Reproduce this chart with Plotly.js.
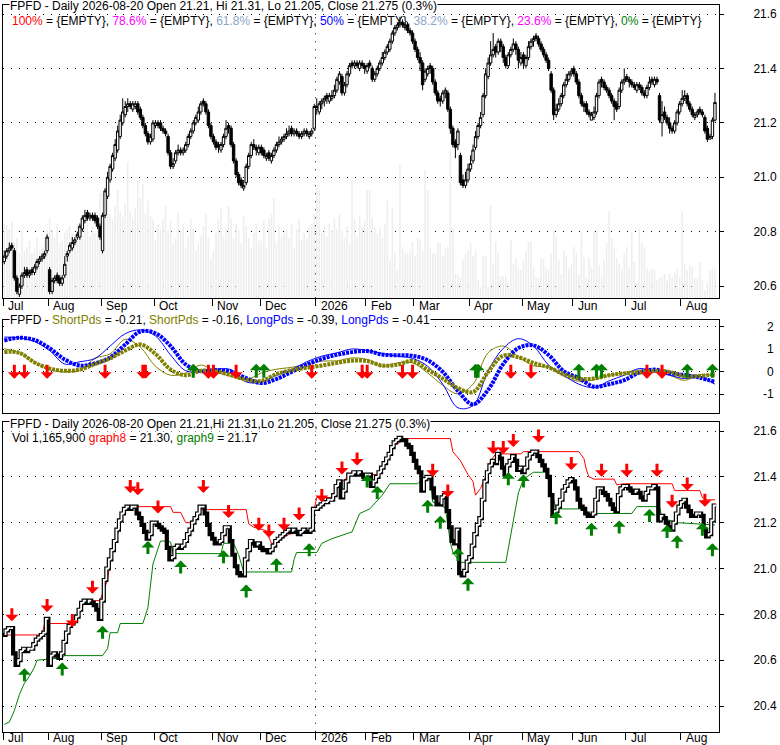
<!DOCTYPE html>
<html><head><meta charset="utf-8">
<script src="https://cdn.plot.ly/plotly-3.0.1.min.js"></script>
<style>html,body{margin:0;padding:0;background:#fff;}#chart{width:780px;height:745px;}</style>
</head><body><div id="chart"></div>
<script>
const monthLabels = ['Jul','Aug','Sep','Oct','Nov','Dec','2026','Feb','Mar','Apr','May','Jun','Jul','Aug'];
const monthStarts = [0,18,39,60,83,102,124,144,163,185,206,226,247,269];

const closeP = [
20.71,20.73,20.74,20.74,20.63,20.58,20.60,20.64,20.65,20.64,
20.65,20.65,20.67,20.69,20.70,20.71,20.72,20.78,20.58,20.62,
20.63,20.62,20.61,20.63,20.68,20.72,20.75,20.76,20.77,20.79,
20.82,20.85,20.86,20.85,20.86,20.85,20.84,20.82,20.78,20.86,
20.95,21.00,21.04,21.08,21.12,21.17,21.21,21.24,21.26,21.27,
21.26,21.27,21.27,21.24,21.22,21.19,21.16,21.13,21.15,21.20,
21.20,21.19,21.18,21.17,21.16,21.09,21.04,21.05,21.09,21.10,
21.09,21.10,21.12,21.15,21.17,21.20,21.22,21.24,21.27,21.27,
21.24,21.19,21.15,21.13,21.11,21.11,21.12,21.15,21.18,21.18,
21.12,21.06,21.01,20.98,20.97,20.97,21.04,21.08,21.12,21.11,
21.10,21.11,21.09,21.08,21.08,21.07,21.08,21.10,21.12,21.13,
21.14,21.15,21.16,21.17,21.16,21.17,21.16,21.15,21.16,21.17,
21.16,21.16,21.17,21.26,21.26,21.27,21.28,21.29,21.29,21.30,
21.30,21.32,21.36,21.38,21.31,21.34,21.38,21.41,21.41,21.42,
21.41,21.42,21.41,21.40,21.41,21.41,21.36,21.38,21.40,21.42,
21.44,21.46,21.48,21.50,21.53,21.55,21.56,21.57,21.56,21.56,
21.54,21.53,21.50,21.47,21.44,21.42,21.34,21.39,21.40,21.40,
21.35,21.31,21.28,21.28,21.31,21.32,21.25,21.18,21.12,21.11,
21.17,20.98,20.97,20.99,21.03,21.05,21.10,21.15,21.19,21.22,
21.30,21.38,21.42,21.45,21.47,21.46,21.50,21.48,21.44,21.41,
21.45,21.47,21.49,21.47,21.43,21.44,21.42,21.44,21.48,21.50,
21.51,21.51,21.49,21.47,21.45,21.43,21.40,21.32,21.23,21.25,
21.27,21.30,21.34,21.36,21.38,21.39,21.38,21.35,21.30,21.27,
21.26,21.24,21.23,21.23,21.24,21.30,21.35,21.35,21.33,21.32,
21.30,21.28,21.26,21.25,21.32,21.35,21.36,21.36,21.35,21.34,
21.33,21.34,21.33,21.31,21.30,21.33,21.35,21.35,21.36,21.35,
21.21,21.23,21.22,21.20,21.18,21.17,21.20,21.24,21.27,21.29,
21.30,21.27,21.25,21.23,21.23,21.24,21.24,21.23,21.17,21.14,
21.15,21.21,21.275];

const openP = [
20.69,20.71,20.73,20.75,20.73,20.63,20.57,20.60,20.64,20.66,
20.64,20.66,20.65,20.67,20.69,20.70,20.71,20.73,20.66,20.58,
20.62,20.64,20.63,20.61,20.64,20.71,20.73,20.74,20.76,20.78,
20.78,20.81,20.84,20.87,20.85,20.86,20.86,20.85,20.82,20.73,
20.86,20.93,20.99,21.03,21.07,21.10,21.15,21.20,21.23,21.26,
21.27,21.25,21.26,21.27,21.25,21.22,21.19,21.16,21.13,21.14,
21.19,21.20,21.20,21.18,21.17,21.15,21.09,21.04,21.06,21.09,
21.10,21.09,21.10,21.12,21.15,21.17,21.20,21.21,21.24,21.28,
21.27,21.24,21.19,21.15,21.13,21.12,21.10,21.12,21.15,21.19,
21.18,21.12,21.06,21.01,20.99,20.96,20.98,21.04,21.08,21.12,
21.11,21.09,21.11,21.10,21.07,21.09,21.06,21.08,21.10,21.12,
21.13,21.14,21.15,21.16,21.18,21.16,21.17,21.16,21.15,21.16,
21.17,21.15,21.16,21.18,21.25,21.24,21.27,21.28,21.30,21.28,
21.29,21.30,21.32,21.35,21.37,21.31,21.34,21.38,21.42,21.41,
21.42,21.40,21.42,21.41,21.39,21.42,21.40,21.36,21.38,21.40,
21.42,21.44,21.46,21.47,21.50,21.53,21.55,21.56,21.57,21.55,
21.56,21.54,21.53,21.50,21.47,21.44,21.42,21.36,21.38,21.41,
21.40,21.35,21.31,21.29,21.28,21.31,21.31,21.25,21.18,21.13,
21.12,21.08,20.99,20.97,20.99,21.03,21.06,21.11,21.15,21.19,
21.23,21.30,21.37,21.42,21.45,21.48,21.46,21.50,21.48,21.44,
21.41,21.45,21.47,21.49,21.47,21.42,21.45,21.41,21.44,21.48,
21.50,21.52,21.51,21.49,21.47,21.45,21.43,21.38,21.32,21.23,
21.25,21.27,21.30,21.34,21.36,21.38,21.40,21.38,21.35,21.30,
21.27,21.27,21.24,21.21,21.22,21.24,21.30,21.36,21.35,21.33,
21.32,21.30,21.28,21.27,21.26,21.32,21.35,21.37,21.36,21.35,
21.34,21.32,21.34,21.33,21.31,21.30,21.33,21.36,21.34,21.36,
21.30,21.20,21.24,21.22,21.20,21.18,21.17,21.20,21.24,21.27,
21.29,21.30,21.27,21.25,21.22,21.23,21.25,21.24,21.22,21.18,
21.14,21.15,21.21];

const highP = [
20.73,20.74,20.76,20.76,20.74,20.64,20.61,20.65,20.67,20.67,
20.66,20.67,20.68,20.70,20.71,20.72,20.73,20.79,20.67,20.63,
20.64,20.65,20.64,20.64,20.71,20.73,20.76,20.78,20.78,20.80,
20.83,20.86,20.88,20.88,20.87,20.87,20.87,20.86,20.83,20.87,
20.96,21.02,21.05,21.09,21.14,21.19,21.23,21.29,21.28,21.29,
21.28,21.28,21.28,21.28,21.26,21.23,21.20,21.17,21.16,21.21,
21.21,21.21,21.21,21.19,21.18,21.16,21.10,21.07,21.10,21.12,
21.11,21.11,21.13,21.16,21.18,21.21,21.23,21.26,21.28,21.29,
21.28,21.25,21.20,21.16,21.14,21.13,21.13,21.16,21.21,21.20,
21.19,21.13,21.07,21.02,21.00,20.99,21.05,21.09,21.13,21.14,
21.12,21.12,21.12,21.11,21.09,21.10,21.09,21.11,21.13,21.15,
21.15,21.16,21.18,21.19,21.19,21.18,21.18,21.17,21.17,21.18,
21.18,21.17,21.18,21.27,21.29,21.28,21.29,21.30,21.31,21.31,
21.32,21.34,21.37,21.39,21.38,21.35,21.39,21.42,21.43,21.43,
21.43,21.43,21.43,21.42,21.42,21.43,21.41,21.39,21.41,21.43,
21.46,21.47,21.49,21.51,21.54,21.56,21.57,21.59,21.58,21.57,
21.57,21.55,21.54,21.51,21.48,21.46,21.43,21.40,21.41,21.42,
21.41,21.36,21.32,21.30,21.32,21.33,21.32,21.26,21.19,21.14,
21.18,21.09,21.01,21.02,21.05,21.08,21.12,21.17,21.20,21.24,
21.31,21.40,21.44,21.50,21.53,21.49,21.51,21.51,21.49,21.45,
21.46,21.48,21.51,21.50,21.48,21.46,21.46,21.45,21.50,21.51,
21.52,21.53,21.52,21.50,21.48,21.46,21.44,21.39,21.33,21.27,
21.29,21.31,21.35,21.38,21.39,21.40,21.41,21.39,21.36,21.31,
21.28,21.28,21.25,21.24,21.26,21.31,21.36,21.37,21.36,21.34,
21.33,21.31,21.29,21.28,21.33,21.36,21.40,21.38,21.37,21.36,
21.35,21.35,21.35,21.34,21.32,21.34,21.37,21.37,21.37,21.37,
21.31,21.28,21.26,21.23,21.22,21.19,21.21,21.25,21.28,21.32,
21.32,21.31,21.28,21.26,21.24,21.25,21.26,21.25,21.23,21.19,
21.16,21.22,21.31];

const lowP = [
20.68,20.70,20.72,20.73,20.62,20.57,20.56,20.59,20.63,20.63,
20.63,20.64,20.64,20.66,20.68,20.69,20.70,20.72,20.57,20.57,
20.61,20.61,20.60,20.60,20.63,20.69,20.72,20.73,20.75,20.77,
20.77,20.80,20.83,20.84,20.84,20.84,20.83,20.81,20.77,20.72,
20.85,20.92,20.98,21.02,21.06,21.09,21.14,21.19,21.22,21.24,
21.25,21.24,21.25,21.23,21.21,21.18,21.15,21.12,21.12,21.13,
21.18,21.18,21.17,21.16,21.15,21.08,21.03,21.03,21.05,21.08,
21.08,21.08,21.09,21.11,21.14,21.16,21.19,21.20,21.23,21.26,
21.23,21.18,21.14,21.12,21.10,21.09,21.09,21.11,21.14,21.16,
21.11,21.05,21.00,20.97,20.96,20.95,20.97,21.03,21.07,21.10,
21.08,21.08,21.08,21.07,21.06,21.06,21.05,21.07,21.09,21.11,
21.12,21.13,21.14,21.15,21.15,21.15,21.15,21.14,21.14,21.15,
21.15,21.14,21.15,21.17,21.23,21.23,21.25,21.26,21.27,21.27,
21.28,21.29,21.31,21.34,21.30,21.30,21.33,21.37,21.40,21.40,
21.40,21.39,21.40,21.38,21.38,21.40,21.35,21.35,21.37,21.39,
21.41,21.43,21.45,21.46,21.49,21.52,21.54,21.55,21.55,21.54,
21.53,21.52,21.49,21.46,21.43,21.39,21.32,21.35,21.37,21.38,
21.34,21.30,21.27,21.26,21.27,21.29,21.24,21.16,21.11,21.07,
21.10,20.97,20.96,20.96,20.98,21.02,21.05,21.10,21.14,21.18,
21.22,21.29,21.36,21.41,21.44,21.44,21.45,21.46,21.42,21.40,
21.40,21.44,21.46,21.45,21.40,21.41,21.40,21.40,21.43,21.47,
21.48,21.50,21.48,21.46,21.44,21.42,21.39,21.31,21.21,21.22,
21.24,21.26,21.29,21.33,21.35,21.37,21.37,21.34,21.29,21.26,
21.24,21.23,21.22,21.21,21.21,21.23,21.29,21.33,21.32,21.31,
21.29,21.27,21.21,21.24,21.25,21.31,21.34,21.35,21.33,21.33,
21.32,21.31,21.32,21.30,21.29,21.29,21.32,21.34,21.33,21.34,
21.20,21.15,21.21,21.19,21.16,21.16,21.16,21.19,21.23,21.26,
21.28,21.26,21.24,21.22,21.21,21.22,21.23,21.22,21.16,21.13,
21.14,21.14,21.205];

// volume in thousands of shares
const volumeK = [
2900,2850,2700,3000,2150,2350,1750,2650,1850,2000,2250,1750,1950,2350,1850,2000,2350,2650,
3100,2700,2350,2900,2150,2250,2550,2700,2800,2550,2350,2900,2650,2400,2700,3100,2400,2800,2550,3050,4100,
4100,3500,3900,3300,3050,3600,4200,3400,3150,3700,5300,3400,3100,3500,4600,3900,4450,3300,3800,3200,3050,
2250,2900,2650,3100,3600,2650,3050,2150,2350,3350,2650,2900,1950,2400,3100,2700,1850,2150,2400,2800,3300,2350,1550,
1850,2550,3100,3500,2400,2700,3600,3100,2350,2900,2650,2150,3200,2800,2350,1950,2550,2900,2250,
2250,3050,1950,3100,3300,3900,2150,2800,2400,2550,2650,2350,2900,1950,2700,3100,2250,2550,2350,2800,2900,3300,
4300,4200,2550,2800,2400,2900,2650,3100,2700,3300,2600,2350,2800,2150,4600,3100,2400,3200,2800,3000,
4200,4200,3150,2750,2500,2750,2350,2900,3800,1500,3500,1800,1100,5200,2000,1800,1750,1850,2200,
1650,2350,2250,1850,5000,4200,1950,1750,1750,2150,2150,1650,1950,2000,5750,2700,950,900,800,1500,1700,1850,
2150,1650,1850,700,450,1650,1650,450,3600,1350,2200,1750,850,850,850,600,2250,1350,1550,1150,1100,
1500,1850,2200,2200,1200,800,800,1550,1550,1200,1100,1750,2650,2400,1500,950,1850,1650,1150,1350,
2000,1800,950,2550,1600,800,1600,1200,2600,2600,1300,900,1500,2150,3400,2350,1950,1550,1350,1150,1750,
2000,1200,2550,1400,600,2700,2150,2000,1150,1050,1150,1100,700,800,850,950,700,950,800,1000,1150,850,
3400,1350,1100,1300,1200,800,750,1400,700,300,600,1100,1150,1166];

// oscillator readings (sampled bar positions)
const oscIdx = [0,6,12,18,24,30,36,42,48,54,60,66,72,78,84,90,96,102,108,114,120,126,132,138,144,150,156,162,168,174,180,186,192,198,204,210,216,222,228,234,240,246,252,258,264,270,276,282];
const longThick = [1.40,1.52,1.42,1.05,0.55,0.28,0.38,0.64,1.22,1.80,1.72,1.15,0.33,0.03,0.08,0.00,-0.28,-0.50,-0.32,0.00,0.32,0.58,0.76,0.88,0.93,0.77,0.74,0.72,0.52,0.00,-0.85,-1.45,-0.80,0.35,1.06,1.18,0.75,0.03,-0.28,-0.66,-0.55,-0.37,-0.03,0.10,-0.05,-0.14,-0.26,-0.45];
const longThin = [1.55,1.52,1.35,0.95,0.35,0.45,0.60,1.15,1.70,1.87,1.60,0.75,0.05,0.00,0.12,0.10,-0.45,-0.45,-0.15,0.10,0.45,0.70,0.85,1.02,0.95,0.82,0.70,0.60,0.25,-0.55,-1.60,-1.50,0.05,1.05,1.48,1.15,0.30,-0.15,-0.55,-0.70,-0.40,-0.15,0.15,0.00,-0.15,-0.30,-0.22,-0.55];
const shortThick = [0.88,0.85,0.42,0.15,0.05,0.10,0.35,0.60,0.95,1.22,0.80,0.10,-0.15,0.05,0.03,-0.15,-0.35,-0.40,-0.10,0.08,0.18,0.28,0.40,0.50,0.48,0.28,0.32,0.48,0.10,-0.30,-0.72,-0.90,0.00,0.72,0.65,0.40,0.20,-0.10,-0.30,-0.30,-0.15,-0.07,-0.03,0.04,0.00,-0.20,-0.18,-0.10];
const shortThin = [1.03,0.85,0.45,0.10,0.00,0.08,0.60,0.80,1.45,1.10,0.25,-0.15,-0.05,0.30,0.00,-0.20,-0.35,-0.05,0.12,0.20,0.35,0.48,0.49,0.62,0.55,0.25,0.40,0.40,-0.05,-0.60,-0.98,-0.55,0.85,1.15,0.68,0.27,0.20,-0.20,-0.42,-0.35,-0.15,-0.03,0.08,0.00,-0.15,-0.38,-0.12,-0.20];

// trailing stop lines (graph8 red, graph9 green) breakpoints
const stopRedIdx = [1,15,16,28,32,38,41,42,44,47,49,66,67,70,72,74,77,78,96,97,99,104,106,108,110,113,122,123,124,130,134,138,149,153,155,160,177,178,181,184,186,187,189,191,193,195,205,206,228,230,231,232,234,242,243,246,265,266,276,277,279,282];
const stopRedVal = [20.71,20.71,20.76,20.76,20.86,20.86,20.95,21.03,21.11,21.23,21.27,21.27,21.245,21.245,21.20,21.20,21.25,21.257,21.257,21.195,21.18,21.165,21.11,21.11,21.13,21.15,21.165,21.26,21.31,21.31,21.38,21.41,21.41,21.50,21.54,21.567,21.567,21.51,21.47,21.41,21.38,21.32,21.35,21.40,21.47,21.50,21.50,21.51,21.51,21.48,21.43,21.40,21.39,21.39,21.365,21.37,21.37,21.34,21.34,21.31,21.30,21.30];
const stopGreenIdx = [0,2,4,6,8,10,12,13,23,24,39,41,42,45,46,55,57,58,59,62,65,66,67,86,87,91,93,95,114,115,116,124,126,130,138,141,145,150,153,164,166,169,170,175,177,178,181,199,200,202,204,206,210,215,218,219,230,232,249,251,260,261,267,282];
const stopGreenVal = [20.32,20.33,20.38,20.45,20.50,20.53,20.57,20.60,20.61,20.62,20.62,20.65,20.72,20.72,20.76,20.76,20.83,20.93,21.02,21.12,21.12,21.115,21.065,21.065,21.11,21.11,21.06,20.985,20.985,21.04,21.07,21.07,21.11,21.13,21.16,21.24,21.26,21.32,21.37,21.37,21.39,21.39,21.29,21.265,21.115,21.07,21.027,21.027,21.09,21.20,21.33,21.39,21.42,21.42,21.30,21.26,21.26,21.24,21.24,21.27,21.27,21.22,21.20,21.19];

// signal arrows
const midRedIdx = [4,8,17,40,55,56,81,83,92,122,142,144,158,162,201,209,255,261];
const midGreenIdx = [75,100,103,187,188,228,235,237,271,281];
const botRedIdx = [3,17,27,35,50,53,61,79,89,101,105,111,117,126,134,140,170,176,194,198,202,212,225,237,247,259,265,271,278];
const botRedVal = [20.77,20.81,20.745,20.89,21.33,21.32,21.24,21.33,21.22,21.165,21.135,21.165,21.21,21.29,21.41,21.45,21.40,21.31,21.50,21.50,21.53,21.55,21.43,21.40,21.40,21.40,21.265,21.34,21.27];
const botGreenIdx = [8,23,39,57,70,87,96,108,121,144,148,168,173,180,184,200,206,219,233,244,256,263,267,277,281];
const botGreenVal = [20.565,20.59,20.75,21.12,21.035,21.08,20.93,21.045,21.11,21.41,21.36,21.30,21.23,21.09,20.96,21.42,21.41,21.25,21.20,21.21,21.26,21.19,21.145,21.20,21.11];

const priceTicksTop = [20.6,20.8,21.0,21.2,21.4,21.6];
const priceTicksBot = [20.4,20.6,20.8,21.0,21.2,21.4,21.6];
const oscTicks = [-1,0,1,2];

// ---------- layout helpers ----------
const W = 780, H = 745;
const PX = v => v / W;
const PY = v => 1 - v / H;
const XR = [-0.5, 283.6];
const FONT = 'Liberation Sans, Arimo, Arial, sans-serif';
const DOT = '1px,7px';
const idx = closeP.map((_, i) => i);

const traces = [];
traces.push({type:'bar', x:idx, y:volumeK, xaxis:'x', yaxis:'y', marker:{color:'#eeeeee', line:{width:0}}, width:0.62, hoverinfo:'skip'});
traces.push({type:'candlestick', x:idx, open:openP, high:highP, low:lowP, close:closeP, xaxis:'x', yaxis:'y4',
  increasing:{line:{color:'#000', width:1}, fillcolor:'#fff'},
  decreasing:{line:{color:'#000', width:1}, fillcolor:'#000'},
  whiskerwidth:0, hoverinfo:'skip'});

// oscillator panel
traces.push({type:'scatter', mode:'lines', x:oscIdx, y:shortThin, xaxis:'x2', yaxis:'y2', line:{color:'#808000', width:1, shape:'spline', smoothing:1}, hoverinfo:'skip'});
traces.push({type:'scatter', mode:'lines', x:oscIdx, y:longThin, xaxis:'x2', yaxis:'y2', line:{color:'#0000ff', width:1, shape:'spline', smoothing:1}, hoverinfo:'skip'});
traces.push({type:'scatter', mode:'lines', x:oscIdx, y:longThick, xaxis:'x2', yaxis:'y2', line:{color:'#0000ff', width:4, shape:'spline', smoothing:1, dash:'3px,1px'}, hoverinfo:'skip'});
traces.push({type:'scatter', mode:'lines', x:oscIdx, y:shortThick, xaxis:'x2', yaxis:'y2', line:{color:'#808000', width:4, shape:'spline', smoothing:1, dash:'3px,1px'}, hoverinfo:'skip'});

// bottom panel stops
traces.push({type:'scatter', mode:'lines', x:stopRedIdx, y:stopRedVal, xaxis:'x3', yaxis:'y3', line:{color:'#ff0000', width:1}, hoverinfo:'skip'});
traces.push({type:'scatter', mode:'lines', x:stopGreenIdx, y:stopGreenVal, xaxis:'x3', yaxis:'y3', line:{color:'#008000', width:1}, hoverinfo:'skip'});

// step price line (black) with white core on rising stretches
const bx = [], by = [];
closeP.forEach((c, i) => { bx.push(i - 0.5, i + 0.5); by.push(c, c); });
traces.push({type:'scatter', mode:'lines', x:bx, y:by, xaxis:'x3', yaxis:'y3', line:{color:'#000', width:4.2}, hoverinfo:'skip'});
const wx = [], wy = [];
let up = true;
for (let i = 1; i < closeP.length; i++) {
  if (closeP[i] > closeP[i-1]) up = true; else if (closeP[i] < closeP[i-1]) up = false;
  if (up) { wx.push(i - 0.5, i - 0.5, i + 0.5, null); wy.push(closeP[i-1], closeP[i], closeP[i], null); }
}
traces.push({type:'scatter', mode:'lines', x:wx, y:wy, xaxis:'x3', yaxis:'y3', line:{color:'#fff', width:1.8}, connectgaps:false, hoverinfo:'skip'});

// ---------- annotations ----------
const anns = [];
function arrow(x, y, xr, yr, color, ay) {
  return {x:x, y:y, xref:xr, yref:yr, text:' ', font:{size:1}, showarrow:true, ax:0, ay:ay,
    arrowhead:1, arrowsize:0.72, arrowwidth:3, arrowcolor:color, standoff:0, borderpad:0};
}
midRedIdx.forEach(i => anns.push(arrow(i, -0.31, 'x2', 'y2', '#ff0000', -15)));
midGreenIdx.forEach(i => anns.push(arrow(i, 0.36, 'x2', 'y2', '#008000', 15)));
botRedIdx.forEach((i, k) => anns.push(arrow(i, botRedVal[k], 'x3', 'y3', '#ff0000', -14)));
botGreenIdx.forEach((i, k) => anns.push(arrow(i, botGreenVal[k], 'x3', 'y3', '#008000', 14)));

monthStarts.forEach((m, k) => {
  anns.push({xref:'x', yref:'paper', x:m - 0.5 + 1.2, y:PY(305.5), xanchor:'left', yanchor:'middle', text:monthLabels[k], showarrow:false, font:{size:12, color:'#000'}});
  anns.push({xref:'x3', yref:'paper', x:m - 0.5 + 1.2, y:PY(738), xanchor:'left', yanchor:'middle', text:monthLabels[k], showarrow:false, font:{size:12, color:'#000'}});
});
oscTicks.forEach(v => anns.push({xref:'paper', yref:'y2', x:PX(776), y:v, xanchor:'right', yanchor:'middle', text:String(v), showarrow:false, font:{size:12, color:'#000'}}));

const sp = (c, t) => '<span style="color:' + c + '">' + t + '</span>';
anns.push({xref:'paper', yref:'paper', x:PX(9), y:PY(6), xanchor:'left', yanchor:'middle', showarrow:false, bgcolor:'#fff', borderpad:0,
  text:'FPFD - Daily 2026-08-20 Open 21.21, Hi 21.31, Lo 21.205, Close 21.275 (0.3%)', font:{size:12, color:'#000'}});
anns.push({xref:'paper', yref:'paper', x:PX(10), y:PY(21), xanchor:'left', yanchor:'middle', showarrow:false,
  text: sp('#ff0000','100%') + ' = {EMPTY}, ' + sp('#ff00ff','78.6%') + ' = {EMPTY}, ' + sp('#8fa3c8','61.8%') + ' = {EMPTY}, ' +
        sp('#0000ff','50%') + ' = {EMPTY}, ' + sp('#8fa3c8','38.2%') + ' = {EMPTY}, ' + sp('#ff00ff','23.6%') + ' = {EMPTY}, ' + sp('#008000','0%') + ' = {EMPTY}',
  font:{size:12, color:'#000'}});
anns.push({xref:'paper', yref:'paper', x:PX(9), y:PY(320.5), xanchor:'left', yanchor:'middle', showarrow:false, bgcolor:'#fff', borderpad:0,
  text:'FPFD - ' + sp('#808000','ShortPds') + ' = -0.21, ' + sp('#808000','ShortPds') + ' = -0.16, ' + sp('#0000ff','LongPds') + ' = -0.39, ' + sp('#0000ff','LongPds') + ' = -0.41',
  font:{size:12, color:'#000'}});
anns.push({xref:'paper', yref:'paper', x:PX(9), y:PY(424), xanchor:'left', yanchor:'middle', showarrow:false, bgcolor:'#fff', borderpad:0,
  text:'FPFD - Daily 2026-08-20 Open 21.21,Hi 21.31,Lo 21.205, Close 21.275 (0.3%)', font:{size:12, color:'#000'}});
anns.push({xref:'paper', yref:'paper', x:PX(10), y:PY(438.5), xanchor:'left', yanchor:'middle', showarrow:false,
  text:'Vol 1,165,900 ' + sp('#ff0000','graph8') + ' = 21.30, ' + sp('#008000','graph9') + ' = 21.17', font:{size:12, color:'#000'}});

// year boundary dotted lines
const yb = monthStarts[6] - 0.5;
const shapes = [
  {type:'line', xref:'x', yref:'y domain', x0:yb, x1:yb, y0:0, y1:1, line:{color:'#000', width:1, dash:DOT}, layer:'below'},
  {type:'line', xref:'x2', yref:'y2 domain', x0:yb, x1:yb, y0:0, y1:1, line:{color:'#000', width:1, dash:DOT}, layer:'below'},
  {type:'line', xref:'x3', yref:'y3 domain', x0:yb, x1:yb, y0:0, y1:1, line:{color:'#000', width:1, dash:DOT}, layer:'below'}
];

const xbase = {domain:[PX(3), PX(719)], range:XR, showgrid:false, zeroline:false, showline:true, mirror:true,
  linecolor:'#000', linewidth:1, tickvals:monthStarts.map(m => m - 0.5), showticklabels:false, tickcolor:'#000', fixedrange:true};
const ybaseRight = {side:'right', showline:true, mirror:true, linecolor:'#000', linewidth:1, zeroline:false,
  showgrid:true, gridcolor:'#000', gridwidth:1, griddash:DOT, ticks:'outside', ticklen:4, tickcolor:'#000',
  tickfont:{size:12, color:'#000'}, ticklabelstandoff:27, fixedrange:true};

const layout = {
  width:W, height:H, margin:{l:0, r:0, t:0, b:0}, paper_bgcolor:'#fff', plot_bgcolor:'#fff',
  showlegend:false, hovermode:false, font:{family:FONT, size:12, color:'#000'},
  boxgap:0.05, boxgroupgap:0,
  xaxis: Object.assign({}, xbase, {anchor:'y', ticks:'outside', ticklen:7, rangeslider:{visible:false}}),
  xaxis2: Object.assign({}, xbase, {anchor:'y2', ticks:''}),
  xaxis3: Object.assign({}, xbase, {anchor:'y3', ticks:'outside', ticklen:7}),
  yaxis: {domain:[PY(298.3), PY(5.3)], range:[0, 11400], showgrid:false, zeroline:false, showline:false, showticklabels:false, ticks:'', fixedrange:true},
  yaxis4: Object.assign({}, ybaseRight, {overlaying:'y', anchor:'x', range:[20.555, 21.632], tickvals:priceTicksTop, ticktext:priceTicksTop.map(v => v.toFixed(1))}),
  yaxis2: Object.assign({}, ybaseRight, {domain:[PY(413.3), PY(319.7)], anchor:'x2', range:[-1.847, 2.325], tickvals:oscTicks, showticklabels:false}),
  yaxis3: Object.assign({}, ybaseRight, {domain:[PY(731.7), PY(422.3)], anchor:'x3', range:[20.288, 21.638], tickvals:priceTicksBot, ticktext:priceTicksBot.map(v => v.toFixed(1))}),
  annotations: anns,
  shapes: shapes
};

Plotly.newPlot('chart', traces, layout, {staticPlot:true, displayModeBar:false});
</script>
</body></html>
